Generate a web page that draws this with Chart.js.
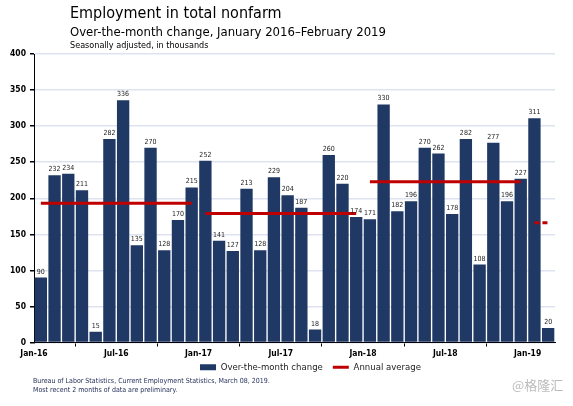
<!DOCTYPE html>
<html>
<head>
<meta charset="utf-8">
<script src="https://cdn.jsdelivr.net/npm/chart.js@4.4.1/dist/chart.umd.min.js"></script>
<style>
  body { margin: 0; background: #fff; }
  #wrap {
    position: relative;
    width: 573px;
    height: 406px;
    font-family: "DejaVu Sans Condensed", "DejaVu Sans", sans-serif;
  }
  .txt { position: absolute; white-space: nowrap; line-height: 1; color: #000; }
  #title { left: 70px; top: 5px; font-size: 16px; }
  #subtitle { left: 70px; top: 25px; font-size: 13px; }
  #note { left: 70px; top: 41px; font-size: 9px; }
  #source { left: 33px; top: 377px; font-size: 7px; line-height: 9px; color: #1f2a55; }
  #mark { left: 512px; top: 378px; font-size: 13px; color: #bbb; font-family: "Noto Sans CJK SC", sans-serif; }
  canvas { position: absolute; left: 0; top: 0; }
</style>
</head>
<body>
<div id="wrap">
  <canvas id="chart" width="573" height="406"></canvas>
  <div class="txt" id="title">Employment in total nonfarm</div>
  <div class="txt" id="subtitle">Over-the-month change, January 2016–February 2019</div>
  <div class="txt" id="note">Seasonally adjusted, in thousands</div>
  <div class="txt" id="source">Bureau of Labor Statistics, Current Employment Statistics, March 08, 2019.<br>Most recent 2 months of data are preliminary.</div>
  <div class="txt" id="mark">@格隆汇</div>
</div>
<script>
const months = [
  "Jan-16", "Feb-16", "Mar-16", "Apr-16", "May-16", "Jun-16",
  "Jul-16", "Aug-16", "Sep-16", "Oct-16", "Nov-16", "Dec-16",
  "Jan-17", "Feb-17", "Mar-17", "Apr-17", "May-17", "Jun-17",
  "Jul-17", "Aug-17", "Sep-17", "Oct-17", "Nov-17", "Dec-17",
  "Jan-18", "Feb-18", "Mar-18", "Apr-18", "May-18", "Jun-18",
  "Jul-18", "Aug-18", "Sep-18", "Oct-18", "Nov-18", "Dec-18",
  "Jan-19", "Feb-19",
];

const changeValues = [
  90, 232, 234, 211, 15, 282, 336, 135, 270, 128, 170, 215,
  252, 141, 127, 213, 128, 229, 204, 187, 18, 260, 220, 174,
  171, 330, 182, 196, 270, 262, 178, 282, 108, 277, 196, 227,
  311, 20,
];

// annual averages, each spanning its first..last month index
const avgValues = [193, 179, 223, 166];
const avgFirstMonth = [0, 12, 24, 36];
const avgLastMonth = [11, 23, 35, 37];

const tickMonths = [0, 6, 12, 18, 24, 30, 36];
const tickLabels = ["Jan-16", "Jul-16", "Jan-17", "Jul-17", "Jan-18", "Jul-18", "Jan-19"];

const FONT = "'DejaVu Sans Condensed', 'DejaVu Sans', sans-serif";
const barColor = "#203864";
const avgColor = "#c00000";

const barData = changeValues.map((v, i) => ({ x: i + 0.5, y: v }));

const avgData = [];
avgValues.forEach((v, k) => {
  avgData.push({ x: avgFirstMonth[k] + 0.5, y: v });
  avgData.push({ x: avgLastMonth[k] + 0.5, y: v });
  avgData.push({ x: avgLastMonth[k] + 1, y: null });
});

// value labels above the bars
const barLabels = {
  id: "barLabels",
  afterDatasetsDraw(chart) {
    const ctx = chart.ctx;
    const meta = chart.getDatasetMeta(0);
    ctx.save();
    ctx.font = "7px " + FONT;
    ctx.fillStyle = "#222";
    ctx.textAlign = "center";
    ctx.textBaseline = "alphabetic";
    meta.data.forEach((bar, i) => {
      ctx.fillText(String(changeValues[i]), bar.x, bar.y - 4);
    });
    ctx.restore();
  },
};

// move the legend a bit right and up, as in the original
const legendShift = {
  id: "legendShift",
  afterLayout(chart) {
    const lg = chart.legend;
    lg.left += 16;
    lg.right += 16;
    lg.top -= 7;
    lg.bottom -= 7;
  },
};

Chart.defaults.font.family = FONT;

new Chart(document.getElementById("chart"), {
  type: "bar",
  data: {
    datasets: [
      {
        label: "Over-the-month change",
        data: barData,
        backgroundColor: barColor,
        borderWidth: 0,
        barPercentage: 0.9,
        categoryPercentage: 1,
        pointStyle: "rect",
      },
      {
        type: "line",
        label: "Annual average",
        data: avgData,
        borderColor: avgColor,
        backgroundColor: avgColor,
        borderWidth: 3,
        pointRadius: 0,
        pointHoverRadius: 0,
        pointStyle: "line",
        pointBorderColor: avgColor,
        pointBorderWidth: 3,
        spanGaps: false,
        order: -1,
        segment: {
          borderDash: (ctx) => (ctx.p0.parsed.x >= 36 ? [5, 3] : undefined),
        },
      },
    ],
  },
  options: {
    responsive: false,
    animation: false,
    layout: {
      padding: { top: 54, left: 0, right: 18, bottom: 17 },
    },
    plugins: {
      legend: {
        position: "bottom",
        fullSize: false,
        labels: {
          usePointStyle: true,
          pointStyleWidth: 16,
          boxHeight: 6,
          padding: 10,
          color: "#222",
          font: { size: 9.5 },
          sort: (a, b) => a.datasetIndex - b.datasetIndex,
        },
      },
      tooltip: {
        callbacks: {
          title: (items) => months[Math.floor(items[0].parsed.x)],
        },
      },
    },
    scales: {
      x: {
        type: "linear",
        min: 0,
        max: 38,
        offset: false,
        afterBuildTicks: (scale) => {
          scale.ticks = tickMonths.map((m) => ({ value: m }));
        },
        afterFit: (scale) => {
          scale.height = 17;
        },
        grid: {
          drawOnChartArea: false,
          color: "#000",
          tickLength: 4,
        },
        border: { color: "#000" },
        ticks: {
          autoSkip: false,
          maxRotation: 0,
          padding: 2,
          color: "#000",
          font: { size: 8.5, weight: "bold" },
          callback: (value) => tickLabels[tickMonths.indexOf(value)],
        },
      },
      y: {
        min: 0,
        max: 400,
        afterFit: (scale) => {
          scale.width = 34;
        },
        grid: {
          color: "#dde4ef",
          lineWidth: 1.5,
          tickColor: "#000",
          tickLength: 4,
        },
        border: { color: "#000" },
        ticks: {
          stepSize: 50,
          padding: 4,
          color: "#000",
          font: { size: 8.5, weight: "bold" },
        },
      },
    },
  },
  plugins: [barLabels, legendShift],
});
</script>
</body>
</html>
